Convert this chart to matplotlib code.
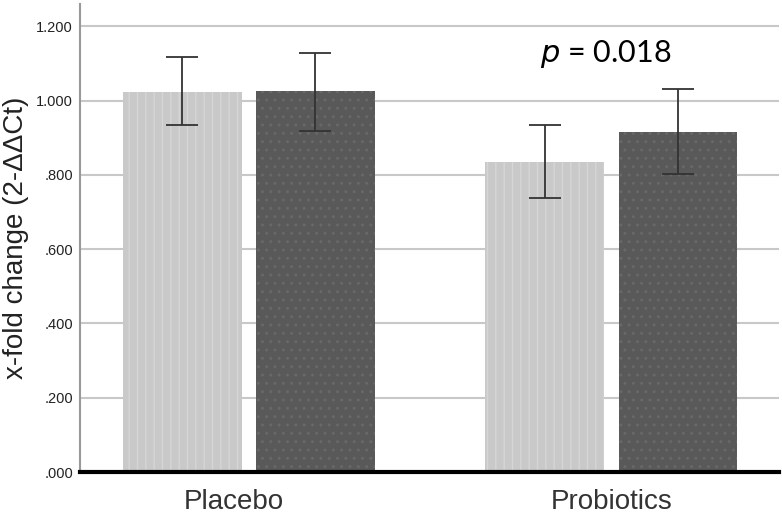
import numpy as np
import matplotlib
matplotlib.use("Agg")
import matplotlib.pyplot as plt

# data
groups = ["Placebo", "Probiotics"]
before_vals = [1.022, 0.834]
after_vals = [1.025, 0.916]
before_hi = [1.116, 0.934]
before_lo = [0.935, 0.738]
after_hi = [1.129, 1.031]
after_lo = [0.919, 0.801]
yticks = [0.0, 0.2, 0.4, 0.6, 0.8, 1.0, 1.2]
ytick_labels = [".000", ".200", ".400", ".600", ".800", "1.000", "1.200"]
p_text = "= 0.018"

sans = ["Liberation Sans", "DejaVu Sans"]

fig = plt.figure(figsize=(7.82, 5.23), dpi=100)
ax = fig.add_axes([0.1023, 0.0975, 0.894, 0.895])

x = np.arange(len(groups))
off = 0.184
w = 0.328

ax.bar(x - off, before_vals, w, color="#c9c9c9", edgecolor="#d6d6d6",
       hatch="||", linewidth=0, zorder=2)
ax.bar(x + off, after_vals, w, color="#595959", edgecolor="#686868",
       hatch="..", linewidth=0, zorder=2)

err_b = [np.array(before_vals) - np.array(before_lo),
         np.array(before_hi) - np.array(before_vals)]
err_a = [np.array(after_vals) - np.array(after_lo),
         np.array(after_hi) - np.array(after_vals)]
ax.errorbar(x - off, before_vals, yerr=err_b, fmt="none", ecolor="#333333",
            elinewidth=1.3, capsize=11.5, capthick=1.3, zorder=3)
ax.errorbar(x + off, after_vals, yerr=err_a, fmt="none", ecolor="#333333",
            elinewidth=1.3, capsize=11.5, capthick=1.3, zorder=3)

ax.set_xlim(-0.4655, 1.4628)
ax.set_ylim(0, 1.26)
ax.set_yticks(yticks)
ax.set_yticklabels(ytick_labels, fontsize=10.5, family=sans, color="#222222")
# the Placebo label sits a little left of its group centre
ax.set_xticks([x[0] - 0.04, x[1]])
ax.set_xticklabels(groups, fontsize=20, family=sans, color="#333333")
ax.tick_params(axis="y", length=0, pad=5)
ax.tick_params(axis="x", length=0, pad=12)
ax.yaxis.grid(True, color="#c8c8c8", linewidth=1.5, zorder=0)
ax.set_axisbelow(True)

for s in ["top", "right"]:
    ax.spines[s].set_visible(False)
ax.spines["left"].set_color("#999999")
ax.spines["left"].set_linewidth(1.5)
ax.spines["bottom"].set_color("black")
ax.spines["bottom"].set_linewidth(3)
ax.spines["bottom"].set_zorder(4)

ax.set_ylabel("x-fold change (2-ΔΔCt)", fontsize=20, family=sans,
              color="#222222", labelpad=5)

ax.text(0.983, 1.104, r"$\it{p}$ " + p_text, fontsize=22, family=["Lato", "DejaVu Sans"],
        ha="center", va="baseline", color="black")

fig.savefig("out.png", dpi=100)
